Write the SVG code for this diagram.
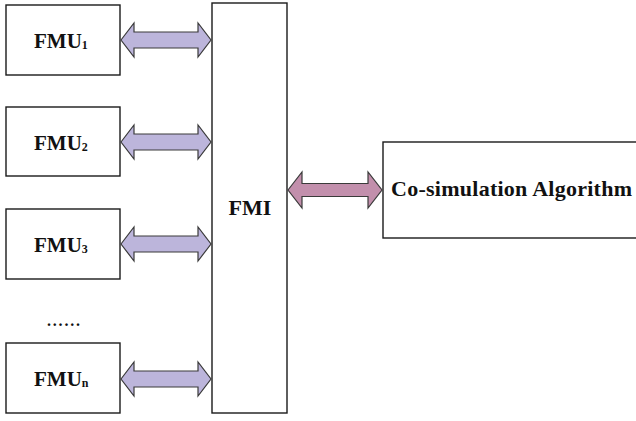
<svg xmlns="http://www.w3.org/2000/svg" width="636" height="421" viewBox="0 0 636 421">
<style>
.box{fill:#fff;stroke:#1a1a1a;stroke-width:1.4}
.t{font-family:"Liberation Serif",serif;font-weight:bold;fill:#111}
.a1{fill:#bcb5db;stroke:#3a3a3a;stroke-width:1.2;stroke-linejoin:miter}
.a2{fill:#c28fac;stroke:#3a3a3a;stroke-width:1.2}
</style>
<defs>
<path id="arr" d="M121,0 L134,-17 L134,-8 L198,-8 L198,-17 L211,0 L198,17 L198,8 L134,8 L134,17 Z"/>
</defs>
<rect width="636" height="421" fill="#fff"/>
<g id="fmu1"><rect class="box" x="6" y="5" width="114" height="70"/><text class="t" x="34" y="48" font-size="21">FMU<tspan font-size="12" dy="1">1</tspan></text></g>
<g id="fmu2"><rect class="box" x="6" y="107" width="114" height="69"/><text class="t" x="34" y="150" font-size="21">FMU<tspan font-size="12" dy="1">2</tspan></text></g>
<g id="fmu3"><rect class="box" x="6" y="209" width="114" height="70"/><text class="t" x="34" y="252" font-size="21">FMU<tspan font-size="12" dy="1">3</tspan></text></g>
<g id="dots"><text class="t" x="47" y="326" font-size="16" textLength="33" lengthAdjust="spacing">......</text></g>
<g id="fmun"><rect class="box" x="6" y="343" width="114" height="70"/><text class="t" x="34" y="386" font-size="21">FMU<tspan font-size="12" dy="1">n</tspan></text></g>
<g id="fmi"><rect class="box" x="212" y="3" width="75" height="410"/><text class="t" x="250" y="215" font-size="22" text-anchor="middle">FMI</text></g>
<g id="cosim"><rect class="box" x="383" y="142" width="260" height="96"/><text class="t" x="391" y="196" font-size="22" textLength="241" lengthAdjust="spacing">Co-simulation Algorithm</text></g>
<g id="connectors">
<use href="#arr" class="a1" transform="translate(0,40)"/>
<use href="#arr" class="a1" transform="translate(0,142)"/>
<use href="#arr" class="a1" transform="translate(0,244)"/>
<use href="#arr" class="a1" transform="translate(0,379)"/>
<path class="a2" d="M288,190 L302,172 L302,183.5 L368,183.5 L368,172 L382,190 L368,208 L368,196.5 L302,196.5 L302,208 Z"/>
</g>
</svg>
